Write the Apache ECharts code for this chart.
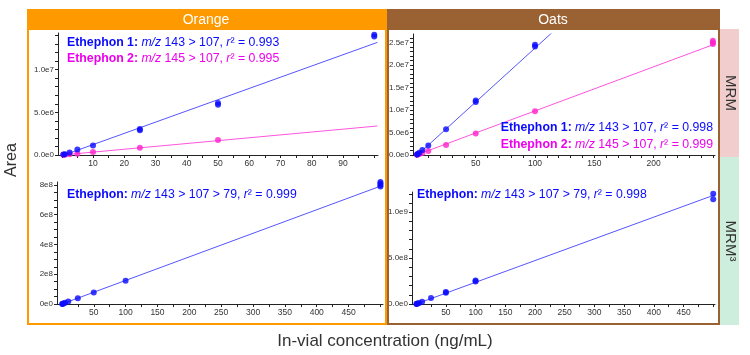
<!DOCTYPE html>
<html><head><meta charset="utf-8">
<script src="https://cdn.jsdelivr.net/npm/echarts@6/dist/echarts.min.js"></script>
<style>html,body{margin:0;padding:0;background:#fff}#c{width:750px;height:355px}</style>
</head><body><div id="c"></div>
<script>
// ---------- data ----------
// Orange, MRM
const orangeMrmX1 = [0.5, 1, 2.5, 5, 10, 25, 25, 50, 50, 100, 100];
const orangeMrmY1 = [0.05e6, 0.1e6, 0.3e6, 0.65e6, 1.1e6, 2.9e6, 3.05e6, 5.9e6, 6.1e6, 13.9e6, 14.1e6];
const orangeMrmX2 = [0.5, 1, 2.5, 5, 10, 25, 50];
const orangeMrmY2 = [0.02e6, 0.04e6, 0.08e6, 0.15e6, 0.35e6, 0.86e6, 1.76e6];
const orangeMrmFitX = [0, 101];
const orangeMrmFit1 = [-0.1e6, 13.2e6];
const orangeMrmFit2 = [0, 3.4e6];
// Oats, MRM
const oatsMrmX1 = [0.5, 1, 2.5, 5, 10, 25, 50, 50, 100, 100];
const oatsMrmY1 = [0.1e6, 0.25e6, 0.5e6, 1.1e6, 2.1e6, 5.7e6, 11.8e6, 12.1e6, 24.1e6, 24.5e6];
const oatsMrmX2 = [0.5, 1, 2.5, 5, 10, 25, 50, 100, 250, 250, 250];
const oatsMrmY2 = [0.05e6, 0.1e6, 0.25e6, 0.45e6, 0.9e6, 2.2e6, 4.8e6, 9.7e6, 24.7e6, 25.0e6, 25.4e6];
const oatsMrmFitX1 = [0, 116];
const oatsMrmFit1 = [-0.2e6, 27.6e6];
const oatsMrmFitX2 = [0, 252];
const oatsMrmFit2 = [0, 24.7e6];
// Orange, MRM3
const orangeMrm3X = [0.5, 1, 2.5, 5, 10, 25, 50, 100, 500, 500, 500, 500];
const orangeMrm3Y = [0.008e8, 0.016e8, 0.04e8, 0.08e8, 0.16e8, 0.38e8, 0.78e8, 1.57e8, 7.9e8, 8.0e8, 8.1e8, 8.2e8];
const orangeMrm3FitX = [0, 500];
const orangeMrm3Fit = [0, 7.92e8];
// Oats, MRM3
const oatsMrm3X = [0.5, 1, 2.5, 5, 10, 25, 50, 50, 100, 100, 500, 500];
const oatsMrm3Y = [0.01e8, 0.025e8, 0.06e8, 0.12e8, 0.25e8, 0.65e8, 1.23e8, 1.3e8, 2.45e8, 2.55e8, 11.4e8, 12.0e8];
const oatsMrm3FitX = [0, 503];
const oatsMrm3Fit = [0, 11.9e8];

// tick labels
const tlXLabels = [10, 20, 30, 40, 50, 60, 70, 80, 90];
const tlYLabels = [0, 5e6, 1e7];
const trXLabels = [50, 100, 150, 200];
const trYLabels = [0, 5e6, 1e7, 1.5e7, 2e7, 2.5e7];
const blXLabels = [50, 100, 150, 200, 250, 300, 350, 400, 450];
const blYLabels = [0, 2e8, 4e8, 6e8, 8e8];
const brXLabels = [50, 100, 150, 200, 250, 300, 350, 400, 450];
const brYLabels = [0, 5e8, 1e9];

const panelTitles = ['Orange', 'Oats'];
const rowTitles = ['MRM', 'MRM³'];

// ---------- helpers ----------
const BLUE = '#0a0aff', BLUE_LINE = '#5555ff', MAG = '#ff22cc', MAG_LINE = '#ff55dd';
const zip = (xs, ys) => xs.map((x, i) => [x, ys[i]]);
const range = (a, b, s) => { const r = []; for (let v = a; v <= b + 1e-9; v += s) r.push(+v.toFixed(6)); return r; };
function fmt(v, d) {
  if (v === 0) return (d ? '0.' + '0'.repeat(d) : '0') + 'e0';
  const e = Math.floor(Math.log10(v) + 1e-9);
  return (v / Math.pow(10, e)).toFixed(d) + 'e' + e;
}
const grids = [
  {left: 58, top: 33, width: 320, height: 122},
  {left: 413, top: 34, width: 302, height: 121},
  {left: 57, top: 182, width: 326, height: 122},
  {left: 412, top: 192, width: 303, height: 112}
];
const axisLineStyle = {color: '#222', width: 1};
function xAx(gi, min, max, labels, minorStep) {
  return {type: 'value', gridIndex: gi, min, max, splitLine: {show: false},
    axisLine: {show: true, onZero: false, lineStyle: axisLineStyle},
    axisTick: {show: true, length: 3, lineStyle: axisLineStyle, customValues: range(Math.ceil(min / minorStep) * minorStep, max, minorStep).filter(v => v > min)},
    axisLabel: {customValues: labels, fontSize: 8.5, color: '#333', margin: 4, fontFamily: 'Liberation Sans'}};
}
function yAx(gi, min, max, labels, minorStep, d) {
  return {type: 'value', gridIndex: gi, min, max, splitLine: {show: false},
    axisLine: {show: true, onZero: false, lineStyle: axisLineStyle},
    axisTick: {show: true, length: 3, lineStyle: axisLineStyle, customValues: range(0, max, minorStep)},
    axisLabel: {customValues: labels, fontSize: 8, color: '#333', margin: 4, fontFamily: 'Liberation Sans', formatter: v => fmt(v, d)}};
}
function sc(gi, xs, ys, color, size) {
  return {type: 'scatter', xAxisIndex: gi, yAxisIndex: gi, data: zip(xs, ys), symbolSize: size, itemStyle: {color}, z: 3, silent: true};
}
function ln(gi, xs, ys, color) {
  return {type: 'line', xAxisIndex: gi, yAxisIndex: gi, data: zip(xs, ys), showSymbol: false, lineStyle: {color, width: 1}, z: 2, silent: true, clip: true};
}

const AF = 'Liberation Sans', AS = 12.3;
const rich = {
  b: {fontWeight: 'bold', fontSize: AS, fontFamily: AF},
  i: {fontStyle: 'italic', fontSize: AS, fontFamily: AF},
  n: {fontSize: AS, fontFamily: AF}
};
function ann(x, y, text, color, align) {
  const r = {};
  for (const k in rich) r[k] = Object.assign({}, rich[k], {fill: color});
  return {type: 'text', x, y, z: 10, style: {text, rich: r, fill: color, align: align || 'left', verticalAlign: 'middle'}};
}

const option = {
  animation: false,
  grid: grids.map(g => Object.assign({containLabel: false}, g)),
  xAxis: [
    xAx(0, -1.2, 101.2, tlXLabels, 5),
    xAx(1, -2.9, 251.8, trXLabels, 10),
    xAx(2, -7.7, 504, blXLabels, 25),
    xAx(3, -7, 503, brXLabels, 25)
  ],
  yAxis: [
    yAx(0, 0, 1.43e7, tlYLabels, 1e6, 1),
    yAx(1, 0, 2.69e7, trYLabels, 1e6, 1),
    yAx(2, 0, 8.2e8, blYLabels, 0.5e8, 0),
    yAx(3, 0, 1.22e9, brYLabels, 1e8, 1)
  ],
  series: [
    ln(0, orangeMrmFitX, orangeMrmFit1, BLUE_LINE),
    ln(0, orangeMrmFitX, orangeMrmFit2, MAG_LINE),
    sc(0, orangeMrmX2, orangeMrmY2, MAG, 6),
    sc(0, orangeMrmX1, orangeMrmY1, BLUE, 6),
    ln(1, oatsMrmFitX1, oatsMrmFit1, BLUE_LINE),
    ln(1, oatsMrmFitX2, oatsMrmFit2, MAG_LINE),
    sc(1, oatsMrmX2, oatsMrmY2, MAG, 6),
    sc(1, oatsMrmX1, oatsMrmY1, BLUE, 6),
    ln(2, orangeMrm3FitX, orangeMrm3Fit, BLUE_LINE),
    sc(2, orangeMrm3X, orangeMrm3Y, BLUE, 6),
    ln(3, oatsMrm3FitX, oatsMrm3Fit, BLUE_LINE),
    sc(3, oatsMrm3X, oatsMrm3Y, BLUE, 6)
  ],
  graphic: [
    // side row labels
    {type: 'rect', shape: {x: 720, y: 29, width: 19, height: 128}, style: {fill: '#f2cdcd'}, z: 0},
    {type: 'rect', shape: {x: 720, y: 157, width: 19, height: 168}, style: {fill: '#cdeedd'}, z: 0},
    {type: 'text', x: 730, y: 93, rotation: -Math.PI / 2, style: {text: rowTitles[0], font: '15px "Liberation Sans"', fill: '#333', align: 'center', verticalAlign: 'middle'}},
    {type: 'text', x: 730, y: 241, rotation: -Math.PI / 2, style: {text: rowTitles[1], font: '15px "Liberation Sans"', fill: '#333', align: 'center', verticalAlign: 'middle'}},
    // panel frames
    {type: 'rect', shape: {x: 28, y: 10, width: 358, height: 314}, style: {fill: 'none', stroke: '#ff9900', lineWidth: 2}, z: 5},
    {type: 'rect', shape: {x: 27, y: 9, width: 360, height: 21}, style: {fill: '#ff9900'}, z: 5},
    {type: 'text', x: 206, y: 20, z: 6, style: {text: panelTitles[0], font: '14px "Liberation Sans"', fill: '#fff', align: 'center', verticalAlign: 'middle'}},
    {type: 'rect', shape: {x: 388, y: 10, width: 331, height: 314}, style: {fill: 'none', stroke: '#9a6232', lineWidth: 2}, z: 5},
    {type: 'rect', shape: {x: 387, y: 9, width: 333, height: 21}, style: {fill: '#9a6232'}, z: 5},
    {type: 'text', x: 553, y: 20, z: 6, style: {text: panelTitles[1], font: '14px "Liberation Sans"', fill: '#fff', align: 'center', verticalAlign: 'middle'}},
    // axis titles
    {type: 'text', x: 12, y: 160, rotation: Math.PI / 2, style: {text: 'Area', font: '16px "Liberation Sans"', fill: '#333', align: 'center', verticalAlign: 'middle'}},
    {type: 'text', x: 385, y: 341, style: {text: 'In-vial concentration (ng/mL)', font: '17px "Liberation Sans"', fill: '#333', align: 'center', verticalAlign: 'middle'}},
    // annotations
    ann(67, 43, '{b|Ethephon 1:} {i|m/z} {n|143 > 107,} {i|r}{n|² = 0.993}', BLUE),
    ann(67, 59, '{b|Ethephon 2:} {i|m/z} {n|145 > 107,} {i|r}{n|² = 0.995}', '#ee00ee'),
    ann(713, 128, '{b|Ethephon 1:} {i|m/z} {n|143 > 107,} {i|r}{n|² = 0.998}', BLUE, 'right'),
    ann(713, 145, '{b|Ethephon 2:} {i|m/z} {n|145 > 107,} {i|r}{n|² = 0.999}', '#ee00ee', 'right'),
    ann(67, 195, '{b|Ethephon:} {i|m/z} {n|143 > 107 > 79,} {i|r}{n|² = 0.999}', BLUE),
    ann(417, 195, '{b|Ethephon:} {i|m/z} {n|143 > 107 > 79,} {i|r}{n|² = 0.998}', BLUE)
  ]
};
const chart = echarts.init(document.getElementById('c'), null, {renderer: 'canvas'});
chart.setOption(option);
</script></body></html>
